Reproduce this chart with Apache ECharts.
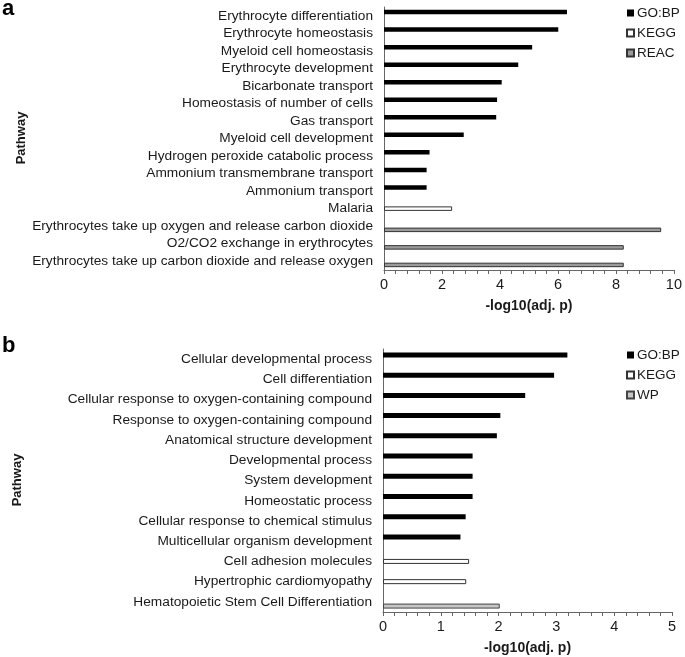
<!DOCTYPE html>
<html>
<head>
<meta charset="utf-8">
<script src="https://cdn.jsdelivr.net/npm/echarts@6/dist/echarts.min.js"></script>
<style>
  html, body { margin: 0; padding: 0; background: #fff; }
  #chart { width: 685px; height: 657px; }
</style>
</head>
<body>
<div id="chart"></div>
<script>
// panel a
const aLabels = [
  'Erythrocyte differentiation', 'Erythrocyte homeostasis', 'Myeloid cell homeostasis',
  'Erythrocyte development', 'Bicarbonate transport', 'Homeostasis of number of cells',
  'Gas transport', 'Myeloid cell development', 'Hydrogen peroxide catabolic process',
  'Ammonium transmembrane transport', 'Ammonium transport', 'Malaria',
  'Erythrocytes take up oxygen and release carbon dioxide', 'O2/CO2 exchange in erythrocytes',
  'Erythrocytes take up carbon dioxide and release oxygen'
]
const aValues = [6.31, 6.01, 5.11, 4.63, 4.06, 3.9, 3.87, 2.75, 1.57, 1.47, 1.47, 2.35, 9.56, 8.27, 8.27]
const aSource = ['GO:BP', 'GO:BP', 'GO:BP', 'GO:BP', 'GO:BP', 'GO:BP', 'GO:BP', 'GO:BP', 'GO:BP', 'GO:BP', 'GO:BP',
  'KEGG', 'REAC', 'REAC', 'REAC']
const aGroups = ['GO:BP', 'KEGG', 'REAC']

// panel b
const bLabels = [
  'Cellular developmental process', 'Cell differentiation', 'Cellular response to oxygen-containing compound',
  'Response to oxygen-containing compound', 'Anatomical structure development', 'Developmental process',
  'System development', 'Homeostatic process', 'Cellular response to chemical stimulus',
  'Multicellular organism development', 'Cell adhesion molecules', 'Hypertrophic cardiomyopathy',
  'Hematopoietic Stem Cell Differentiation'
]
const bValues = [3.19, 2.96, 2.46, 2.03, 1.97, 1.55, 1.55, 1.55, 1.43, 1.34, 1.49, 1.44, 2.02]
const bSource = ['GO:BP', 'GO:BP', 'GO:BP', 'GO:BP', 'GO:BP', 'GO:BP', 'GO:BP', 'GO:BP', 'GO:BP', 'GO:BP',
  'KEGG', 'KEGG', 'WP']
const bGroups = ['GO:BP', 'KEGG', 'WP']

const aTicks = {min: 0, max: 10, interval: 2}
const bTicks = {min: 0, max: 5, interval: 1}

const styles = {
  'GO:BP': {color: '#000000', borderColor: '#000000', borderWidth: 0},
  'KEGG': {color: '#ffffff', borderColor: '#333333', borderWidth: 1},
  'REAC': {color: '#9a9a9a', borderColor: '#333333', borderWidth: 1},
  'WP': {color: '#c6c6c6', borderColor: '#444444', borderWidth: 1}
}

const font = 'Liberation Sans, Arial, sans-serif'
const axisColor = '#666'
const textColor = '#1a1a1a'

function makeSeries(groups, values, source, idx, barWidth, barGap) {
  return groups.map(g => ({
    name: g,
    type: 'bar',
    xAxisIndex: idx,
    yAxisIndex: idx,
    barWidth: barWidth,
    barGap: barGap,
    itemStyle: styles[g],
    data: values.map((v, i) => source[i] === g ? v : '-')
  }))
}

function xAxis(idx, ticks) {
  return {
    type: 'value',
    gridIndex: idx,
    min: ticks.min,
    max: ticks.max,
    interval: ticks.interval,
    name: '-log10(adj. p)',
    nameLocation: 'middle',
    nameGap: 29,
    nameTextStyle: {fontFamily: font, fontSize: 14, fontWeight: 'bold', color: textColor},
    axisLine: {show: true, lineStyle: {color: axisColor, width: 1}},
    axisTick: {show: true, length: 4, lineStyle: {color: axisColor}},
    minorTick: {show: true, splitNumber: 5, length: 4, lineStyle: {color: axisColor}},
    splitLine: {show: false},
    axisLabel: {fontFamily: font, fontSize: 14.5, color: textColor, margin: 7}
  }
}

function yAxis(idx, labels) {
  return {
    type: 'category',
    gridIndex: idx,
    inverse: true,
    data: labels,
    axisLine: {show: true, lineStyle: {color: axisColor, width: 1}},
    axisTick: {show: false},
    axisLabel: {interval: 0, fontFamily: font, fontSize: 13.7, color: textColor, margin: 11}
  }
}

function legend(top, groups) {
  return {
    orient: 'vertical',
    left: 626,
    top: top,
    padding: 0,
    data: groups,
    itemWidth: 7,
    itemHeight: 7,
    itemGap: 6,
    icon: 'rect',
    selectedMode: false,
    textStyle: {fontFamily: font, fontSize: 13.5, color: textColor, padding: [0, 0, 0, -2]}
  }
}

const chart = echarts.init(document.getElementById('chart'))
chart.setOption({
  animation: false,
  backgroundColor: '#fff',
  grid: [
    {left: 384, right: 9, top: 7, bottom: 387},
    {left: 383, right: 13, top: 349, bottom: 45}
  ],
  xAxis: [xAxis(0, aTicks), xAxis(1, bTicks)],
  yAxis: [yAxis(0, aLabels), yAxis(1, bLabels)],
  legend: [legend(6, aGroups), legend(348, bGroups)],
  series: [
    ...makeSeries(aGroups, aValues, aSource, 0, 4.5, '-18%'),
    ...makeSeries(bGroups, bValues, bSource, 1, 5, '-16%')
  ],
  graphic: [
    {type: 'text', left: 2, top: -2, style: {text: 'a', fontFamily: font, fontSize: 22, fontWeight: 'bold', fill: '#000'}},
    {type: 'text', left: 2, top: 335, style: {text: 'b', fontFamily: font, fontSize: 22, fontWeight: 'bold', fill: '#000'}},
    {type: 'text', x: 15, y: 138, rotation: Math.PI / 2,
      style: {text: 'Pathway', fontFamily: font, fontSize: 13, fontWeight: 'bold', fill: textColor, align: 'center', verticalAlign: 'top'}},
    {type: 'text', x: 11, y: 480, rotation: Math.PI / 2,
      style: {text: 'Pathway', fontFamily: font, fontSize: 13, fontWeight: 'bold', fill: textColor, align: 'center', verticalAlign: 'top'}}
  ]
})
</script>
</body>
</html>
